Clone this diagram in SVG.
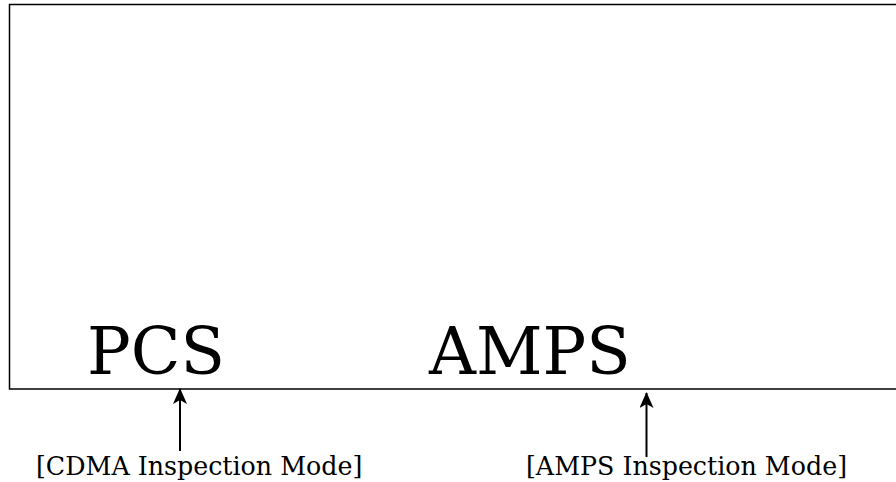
<svg xmlns="http://www.w3.org/2000/svg" width="896" height="482" viewBox="0 0 896 482">
<style>
.big{font-family:"DejaVu Serif","Liberation Serif",serif;font-size:65px;fill:#000}
.lbl{font-family:"DejaVu Serif","Liberation Serif",serif;font-size:25.3px;fill:#000}
.conn{stroke:#000;stroke-width:2;fill:none}
</style>
<defs>
<marker id="ah" viewBox="0 0 16 14" refX="15" refY="7" markerWidth="16" markerHeight="14" markerUnits="userSpaceOnUse" orient="auto">
<path d="M16,7 L0,0 L4,7 L0,14 Z" fill="#000"/>
</marker>
</defs>
<rect x="0" y="0" width="896" height="482" fill="#fff"/>
<g id="panel">
<rect x="9.5" y="4.5" width="900" height="384.5" fill="none" stroke="#000" stroke-width="1.5"/>
<text class="big" x="87" y="374">PCS</text>
<text class="big" x="429" y="374">AMPS</text>
</g>
<g id="connectors">
<line class="conn" x1="180" y1="451" x2="180" y2="389" marker-end="url(#ah)"/>
<line class="conn" x1="646.5" y1="457" x2="646.5" y2="393" marker-end="url(#ah)"/>
</g>
<g id="label-cdma">
<text class="lbl" x="36" y="475">[CDMA Inspection Mode]</text>
</g>
<g id="label-amps">
<text class="lbl" x="526" y="475">[AMPS Inspection Mode]</text>
</g>
</svg>
